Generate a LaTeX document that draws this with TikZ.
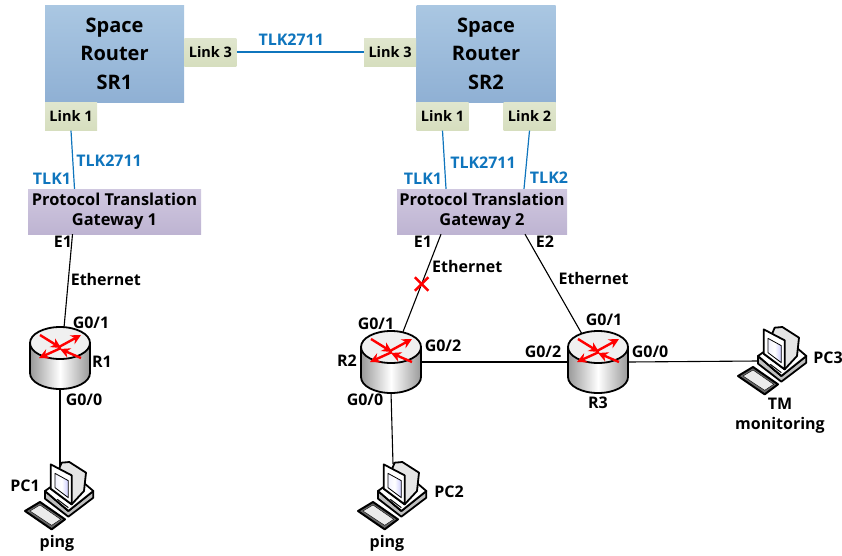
\documentclass[tikz,border=0pt]{standalone}
\usepackage{fontspec}
\setmainfont{Open Sans}
\usetikzlibrary{positioning,shapes.misc,arrows.meta}
\definecolor{tlkblue}{HTML}{0F75BD}

\begin{document}
\begin{tikzpicture}[x=1pt, y=-1pt, font=\bfseries\fontsize{16}{20}\selectfont,
spacenode/.style={rectangle, top color={rgb,255:red,170;green,199;blue,226}, bottom color={rgb,255:red,143;green,176;blue,212}, minimum width=139pt, minimum height=97pt, inner sep=0pt, align=center, font=\bfseries\fontsize{20}{28.5}\selectfont},
linknode/.style={rectangle, top color={rgb,255:red,224;green,230;blue,206}, bottom color={rgb,255:red,214;green,222;blue,190}, minimum width=52pt, minimum height=28pt, inner sep=0pt, font=\bfseries\fontsize{14.5}{17}\selectfont},
gatewaynode/.style={rectangle, top color={rgb,255:red,208;green,200;blue,224}, bottom color={rgb,255:red,190;green,180;blue,210}, minimum height=45pt, inner sep=0pt, align=center, font=\bfseries\fontsize{16.4}{20}\selectfont},
devicenode/.style={rectangle, minimum width=60pt, minimum height=60pt, inner sep=0pt},
pcnode/.style={rectangle, minimum width=68pt, minimum height=68pt, inner sep=0pt},
portlabel/.style={inner sep=0pt},
tlklabel/.style={inner sep=0pt, text=tlkblue},
tlkline/.style={tlkblue, line width=1.2pt},
etherline/.style={black, line width=1.1pt},
]
\useasboundingbox (0,0) rectangle (842,555);

%Nodes
\node[spacenode]   (SR1)   at (114.5,53.5)   {Space\\Router\\SR1};
\node[spacenode]   (SR2)   at (486,53.5)     {Space\\Router\\SR2};
\node[linknode]    (SR1L3) [right=0pt of SR1, yshift=1.5pt] {Link 3};
\node[linknode]    (SR2L3) [left=0pt of SR2, yshift=1.5pt]  {Link 3};
\node[linknode]    (SR1L1) [below=0pt of SR1.south west, anchor=north west] {Link 1};
\node[linknode]    (SR2L1) [below=0pt of SR2.south west, anchor=north west] {Link 1};
\node[linknode]    (SR2L2) [below=0pt of SR2.south east, anchor=north east] {Link 2};
\node[gatewaynode, minimum width=173pt] (GW1) at (114.5,211.5) {Protocol Translation\\Gateway 1};
\node[gatewaynode, minimum width=170pt] (GW2) at (482,211.5)   {Protocol Translation\\Gateway 2};
\node[devicenode]  (R1)    at (60,358)   {};
\node[devicenode]  (R2)    at (391,362)  {};
\node[devicenode]  (R3)    at (598,362)  {};
\node[pcnode]      (PC1)   at (60,496)   {};
\node[pcnode]      (PC2)   at (393,496)  {};
\node[pcnode]      (PC3)   at (773,361)  {};

%Lines
\draw[tlkline] (SR1L3.east) -- (SR2L3.west) node[midway, above=6pt, xshift=-9pt, tlklabel] {TLK2711};
\draw[tlkline] (SR1L1.south) -- ([xshift=-40pt]GW1.north) node[midway, right=3pt, tlklabel, yshift=-1pt] {TLK2711};
\draw[tlkline] (SR2L1.south) -- ([xshift=-36pt]GW2.north);
\draw[tlkline] (SR2L2.south) -- ([xshift=42pt]GW2.north);
\draw[etherline] ([xshift=-42pt]GW1.south) -- ([xshift=4pt]R1.north) node[midway, right=2pt, portlabel, yshift=2pt] {Ethernet};
\draw[etherline] ([xshift=-41pt]GW2.south) -- ([xshift=12pt]R2.north) node[pos=0.3, right=2pt, portlabel, yshift=-3pt] {Ethernet} node[pos=0.51, cross out, draw=red, line width=2.6pt, minimum size=11pt, inner sep=0pt] (cut) {};
\draw[etherline] ([xshift=43pt]GW2.south) -- ([xshift=-15pt, yshift=-4pt]R3.north) node[midway, right=4pt, portlabel, yshift=7pt] {Ethernet};
\draw[etherline] (R1.south) -- ([yshift=30pt]PC1.center);
\draw[etherline] (R2.south) -- ([yshift=32pt]PC2.center);
\draw[etherline] (R2.east) -- (R3.west);
\draw[etherline] (R3.east) -- ([xshift=-16pt]PC3.center);

%Routers
\foreach \r in {R1,R2,R3} {
\begin{scope}[shift={(\r)}]
\draw[line width=1.8pt, left color=black!40, right color=black!40, middle color=white] (-30,-15) -- (-30,15) arc[start angle=180, end angle=0, x radius=30, y radius=16] -- (30,-15) -- cycle;
\draw[line width=1.8pt, fill=black!6] (0,-15) ellipse[x radius=30, y radius=16];
\foreach \ax/\ay/\bx/\by in {-20/-23/1/-10, -1/-11/21/-23, 21/0/0/-9, 1/-10/-21/0} {
\draw[-{Stealth[length=10pt, width=10pt]}, red, line width=2.4pt] (\ax,\ay) -- (\bx,\by);
}
\end{scope}
}

%Computers
\foreach \p in {PC1,PC2,PC3} {
\begin{scope}[shift={(\p)}, scale=0.3333, line width=1.8pt, line join=round]
\draw[fill=black!25] (-45,-15) -- (-45,8) -- (25,62) -- (100,5) -- (100,-15) -- (25,45) -- cycle;
\draw[fill=white] (-45,-15) -- (-10,-40) -- (65,-45) -- (100,-15) -- (25,45) -- cycle;
\draw[fill=black!10] (5,-100) -- (28,-102) -- (78,-70) -- (72,-15) -- (35,25) -- (-28,-22) -- cycle;
\draw[fill=white] (-28,-95) -- (35,-62) -- (35,25) -- (-28,-22) -- cycle;
\draw[left color=blue!5, right color=blue!20, middle color=white, line width=0.8pt] (-15,-68) -- (25,-46) -- (25,5) -- (-15,-25) -- cycle;
\draw[line width=1pt] (-8,10) -- (25,35) (-8,18) -- (25,43);
\draw[fill=black!60, line width=2pt] (-105,45) -- (-60,18) -- (15,70) -- (-25,100) -- cycle;
\draw[fill=black!8, line width=0.4pt] (-90,45) -- (-60,27) -- (2,70) -- (-25,88) -- cycle;
\end{scope}
}

%Labels
\node[tlklabel] (T1) at (52,179)   {TLK1};
\node[tlklabel] (T2) at (423,179)  {TLK1};
\node[tlklabel] (T3) at (549,178)  {TLK2};
\node[tlklabel] (T4) at (483,163)  {TLK2711};
\node[portlabel] (E1a) at (63,242)  {E1};
\node[portlabel] (E1b) at (423,242) {E1};
\node[portlabel] (E2b) at (545,242) {E2};
\node[portlabel] (G1a) at (91,323)  {G0/1};
\node[portlabel] (N1) at (102,362)  {R1};
\node[portlabel] (G0a) at (84,400)  {G0/0};
\node[portlabel] (G1b) at (376,324) {G0/1};
\node[portlabel] (G2b) at (443,346) {G0/2};
\node[portlabel] (N2) at (347,361)  {R2};
\node[portlabel] (G0b) at (365,400) {G0/0};
\node[portlabel] (G2c) at (543,352) {G0/2};
\node[portlabel] (G1c) at (604,320) {G0/1};
\node[portlabel] (G0c) at (650,352) {G0/0};
\node[portlabel] (N3) at (598,403)  {R3};
\node[portlabel] (P1) at (25,486)   {PC1};
\node[portlabel] (P2) at (449,492)  {PC2};
\node[portlabel] (P3) at (828,358)  {PC3};
\node[portlabel] (Ping1) at (57,543)  {ping};
\node[portlabel] (Ping2) at (387,543) {ping};
\node[portlabel, align=center] (TM) at (780,416) {TM\\monitoring};
\end{tikzpicture}
\end{document}
